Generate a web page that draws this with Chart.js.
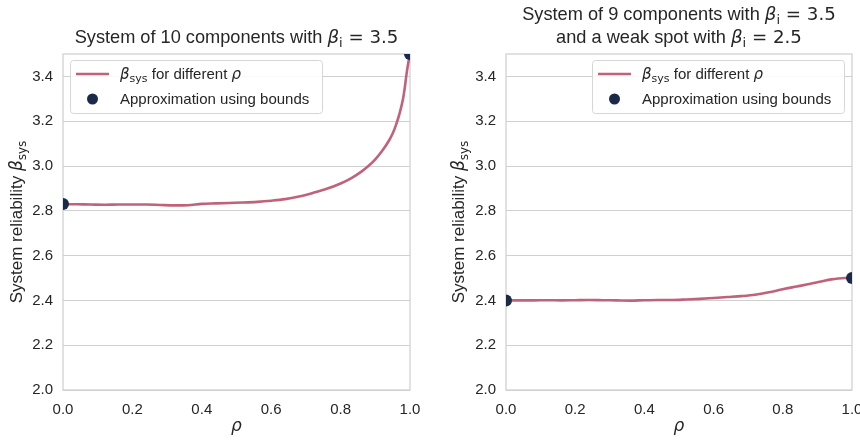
<!DOCTYPE html>
<html>
<head>
<meta charset="utf-8">
<script src="https://cdn.jsdelivr.net/npm/chart.js@4/dist/chart.umd.min.js"></script>
<style>
  html, body { margin: 0; padding: 0; background: #ffffff; }
  #wrap { position: relative; width: 860px; height: 441px; overflow: hidden; }
  canvas { position: absolute; top: 0; }
</style>
</head>
<body>
<div id="wrap">
  <canvas id="left" width="430" height="441" style="left:0"></canvas>
  <canvas id="right" width="430" height="441" style="left:430px"></canvas>
</div>
<script>
// Correlation values rho and the simulated system reliability index
const rhoTen = [0, 0.04, 0.08, 0.12, 0.16, 0.2, 0.24, 0.28, 0.32, 0.36, 0.4, 0.44, 0.48, 0.52, 0.56, 0.6,
  0.64, 0.68, 0.72, 0.76, 0.8, 0.83, 0.86, 0.88, 0.9, 0.92, 0.94, 0.95, 0.96, 0.97, 0.98, 0.985, 0.99, 0.995, 1.0];
const betaTen = [2.830, 2.829, 2.828, 2.827, 2.828, 2.828, 2.828, 2.826, 2.824, 2.825, 2.831, 2.833, 2.835,
  2.837, 2.840, 2.845, 2.852, 2.864, 2.880, 2.898, 2.922, 2.945, 2.975, 3.000, 3.030, 3.068, 3.115, 3.145,
  3.185, 3.235, 3.300, 3.350, 3.410, 3.460, 3.500];

const rhoWeak = [0, 0.04, 0.08, 0.12, 0.16, 0.2, 0.24, 0.28, 0.32, 0.36, 0.4, 0.44, 0.48, 0.52, 0.56, 0.6,
  0.64, 0.68, 0.72, 0.76, 0.8, 0.84, 0.88, 0.9, 0.92, 0.94, 0.96, 0.98, 1.0];
const betaWeak = [2.400, 2.400, 2.400, 2.401, 2.400, 2.401, 2.402, 2.401, 2.400, 2.399, 2.401, 2.402, 2.402,
  2.404, 2.407, 2.411, 2.415, 2.419, 2.425, 2.436, 2.450, 2.462, 2.474, 2.481, 2.488, 2.494, 2.498, 2.500, 2.500];

// Bound approximations at rho = 0 and rho = 1
const boundRho = [0, 1];
const boundTen = [2.83, 3.5];
const boundWeak = [2.40, 2.50];

// Axis ticks
const yTickValues = [2.0, 2.2, 2.4, 2.6, 2.8, 3.0, 3.2, 3.4];
const xTickValues = [0.0, 0.2, 0.4, 0.6, 0.8, 1.0];

const LINE_COLOR = '#c1627b';
const DOT_COLOR = '#1b2a4a';
const TEXT_COLOR = '#262626';
const GRID_COLOR = '#d0d0d0';
const SANS = '"Liberation Sans", Arial, sans-serif';
const MATH = '"DejaVu Sans", sans-serif';

// Draw a run of mixed text: plain text, math italic, math roman and subscripts
function richParts(ctx, parts, size) {
  return parts.map(p => {
    let font, dy = 0;
    if (p.k === 'it') font = `italic ${size}px ${MATH}`;
    else if (p.k === 'rm') font = `${size}px ${MATH}`;
    else if (p.k === 'sub') { font = `${Math.round(size * 0.7)}px ${MATH}`; dy = size * 0.22; }
    else font = `${size}px ${SANS}`;
    ctx.font = font;
    return { t: p.t, font, dy, w: ctx.measureText(p.t).width };
  });
}
function drawRich(ctx, parts, x, y, size, align) {
  const ps = richParts(ctx, parts, size);
  const total = ps.reduce((s, p) => s + p.w, 0);
  let cx = align === 'center' ? x - total / 2 : x;
  ctx.textBaseline = 'alphabetic';
  ctx.textAlign = 'left';
  ctx.fillStyle = TEXT_COLOR;
  for (const p of ps) {
    ctx.font = p.font;
    ctx.fillText(p.t, cx, y + p.dy);
    cx += p.w;
  }
  return total;
}

const betaSysParts = [{ t: 'β', k: 'it' }, { t: 'sys', k: 'sub' }];

function decorPlugin(opts) {
  return {
    id: 'decor',
    beforeDatasetsDraw(chart) {
      const { ctx, chartArea: a } = chart;
      ctx.save();
      ctx.strokeStyle = GRID_COLOR;
      ctx.lineWidth = 1.25;
      ctx.strokeRect(a.left, a.top, a.right - a.left, a.bottom - a.top);
      ctx.restore();
    },
    afterDraw(chart) {
      const { ctx, chartArea: a } = chart;
      const cx = (a.left + a.right) / 2;
      ctx.save();
      // Title lines
      opts.title.forEach((line, i) => drawRich(ctx, line, cx, opts.titleY[i], 18.2, 'center'));
      // x axis label
      drawRich(ctx, [{ t: 'ρ', k: 'it' }], cx, 431, 17, 'center');
      // y axis label, rotated
      ctx.save();
      ctx.translate(opts.yLabelX, (a.top + a.bottom) / 2);
      ctx.rotate(-Math.PI / 2);
      drawRich(ctx, [{ t: 'System reliability ', k: 'n' }, ...betaSysParts], 0, 0, 17, 'center');
      ctx.restore();
      // Legend box
      const L = opts.legend;
      ctx.beginPath();
      ctx.roundRect(L.x + 0.5, L.y + 0.5, L.w, L.h, 3);
      ctx.fillStyle = 'rgba(255,255,255,0.85)';
      ctx.fill();
      ctx.strokeStyle = '#d6d6d6';
      ctx.lineWidth = 1;
      ctx.stroke();
      // line entry
      const y1 = L.y + 14, y2 = L.y + 39;
      ctx.strokeStyle = LINE_COLOR;
      ctx.lineWidth = 2.6;
      ctx.beginPath();
      ctx.moveTo(L.x + 6, y1);
      ctx.lineTo(L.x + 39, y1);
      ctx.stroke();
      drawRich(ctx, [...betaSysParts, { t: ' for different ', k: 'n' }, { t: 'ρ', k: 'it' }], L.x + 50, y1 + 5, 15, 'left');
      // dot entry
      ctx.fillStyle = DOT_COLOR;
      ctx.beginPath();
      ctx.arc(L.x + 22.5, y2, 5.5, 0, Math.PI * 2);
      ctx.fill();
      drawRich(ctx, [{ t: 'Approximation using bounds', k: 'n' }], L.x + 50, y2 + 5, 15, 'left');
      ctx.restore();
    }
  };
}

function makeChart(id, rho, beta, bounds, plotLeft, padRight, opts) {
  const lineData = rho.map((r, i) => ({ x: r, y: beta[i] }));
  const dotData = boundRho.map((r, i) => ({ x: r, y: bounds[i] }));
  return new Chart(document.getElementById(id), {
    type: 'line',
    data: {
      datasets: [
        {
          label: 'beta_sys',
          data: lineData,
          borderColor: LINE_COLOR,
          borderWidth: 2.6,
          pointRadius: 0,
          cubicInterpolationMode: 'monotone',
          fill: false,
          clip: 0,
          order: 2
        },
        {
          label: 'bounds',
          data: dotData,
          showLine: false,
          pointRadius: 6,
          pointBackgroundColor: DOT_COLOR,
          pointBorderWidth: 0,
          clip: 0,
          order: 1
        }
      ]
    },
    options: {
      responsive: false,
      animation: false,
      devicePixelRatio: 1,
      layout: { padding: { top: 54, right: padRight, left: 0, bottom: 0 } },
      plugins: { legend: { display: false }, tooltip: { enabled: false }, title: { display: false } },
      scales: {
        x: {
          type: 'linear',
          min: 0, max: 1,
          afterBuildTicks: s => { s.ticks = xTickValues.map(v => ({ value: v })); },
          afterFit: s => { s.height = 51; s.paddingLeft = 0; s.paddingRight = 0; },
          grid: { display: false, drawTicks: false },
          border: { display: false },
          ticks: {
            padding: 11, maxRotation: 0, autoSkip: false,
            color: TEXT_COLOR, font: { family: SANS, size: 15 },
            callback: v => v.toFixed(1)
          }
        },
        y: {
          type: 'linear',
          min: 2.0, max: 3.5,
          afterBuildTicks: s => { s.ticks = yTickValues.map(v => ({ value: v })); },
          afterFit: s => { s.width = plotLeft; s.paddingTop = 0; s.paddingBottom = 0; },
          grid: { color: GRID_COLOR, lineWidth: 1, drawTicks: false },
          border: { display: false },
          ticks: {
            padding: 10,
            color: TEXT_COLOR, font: { family: SANS, size: 15 },
            callback: v => v.toFixed(1)
          }
        }
      }
    },
    plugins: [decorPlugin(opts)]
  });
}

const betaI = (v) => [{ t: 'β', k: 'it' }, { t: 'i', k: 'sub' }, { t: ' = ' + v, k: 'rm' }];

makeChart('left', rhoTen, betaTen, boundTen, 63, 20, {
  title: [[{ t: 'System of 10 components with ', k: 'n' }, ...betaI('3.5')]],
  titleY: [43],
  yLabelX: 22,
  legend: { x: 70, y: 60, w: 252, h: 53 }
});

makeChart('right', rhoWeak, betaWeak, boundWeak, 76, 8, {
  title: [
    [{ t: 'System of 9 components with ', k: 'n' }, ...betaI('3.5')],
    [{ t: 'and a weak spot with ', k: 'n' }, ...betaI('2.5')]
  ],
  titleY: [20, 43],
  yLabelX: 34,
  legend: { x: 162, y: 60, w: 252, h: 53 }
});
</script>
</body>
</html>
